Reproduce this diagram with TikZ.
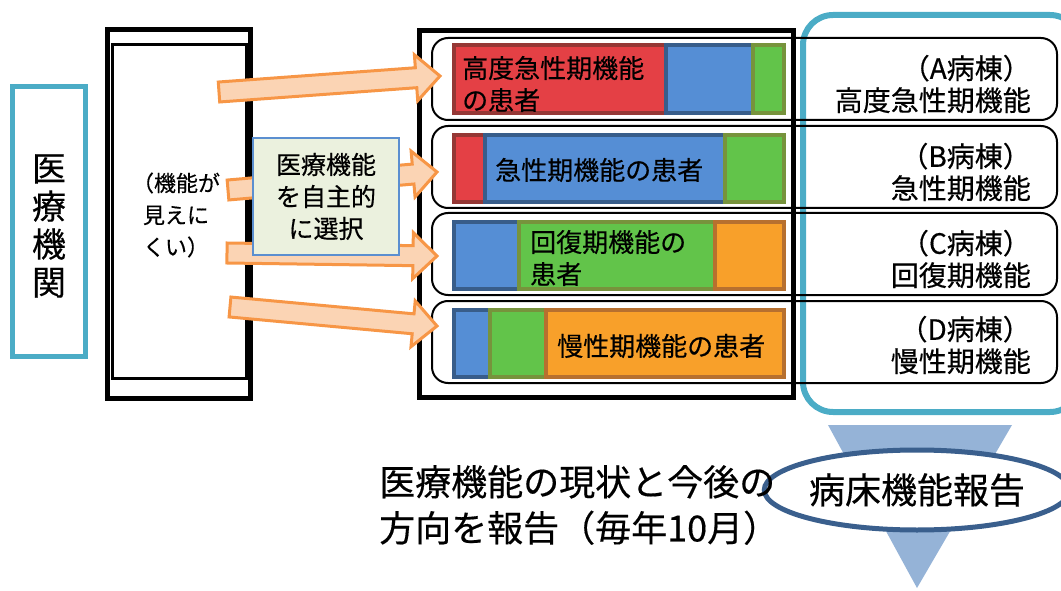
\documentclass[tikz,border=0pt]{standalone}
\usepackage{fontspec}
\newfontfamily\jp{Noto Sans CJK JP}[FakeBold=0.4]
\usetikzlibrary{calc,shapes.geometric}

\definecolor{frameblue}{HTML}{4BACC6}
\definecolor{arrfill}{HTML}{FBD4B4}
\definecolor{arrline}{HTML}{F79646}
\definecolor{choicefill}{HTML}{EBF1DE}
\definecolor{choiceline}{HTML}{5B8FD0}
\definecolor{redfill}{HTML}{E44045}
\definecolor{redline}{HTML}{953735}
\definecolor{bluefill}{HTML}{558ED5}
\definecolor{blueline}{HTML}{385D8A}
\definecolor{greenfill}{HTML}{62C44A}
\definecolor{greenline}{HTML}{77933C}
\definecolor{orangefill}{HTML}{F8A02A}
\definecolor{orangeline}{HTML}{B7702F}
\definecolor{trifill}{HTML}{95B3D7}
\definecolor{ovalline}{HTML}{3A5F8D}

\newcommand{\jpsize}[2]{\fontsize{#1}{#2}\selectfont\jp}

% block arrow from #1 to #2
\newcommand{\fatarrow}[2]{%
  \coordinate (#2h) at ($(#2)!24pt!(#1)$);
  \draw[fatarr] ($(#1)!10pt!90:(#2)$) -- ($(#2h)!10pt!-90:(#1)$)
    -- ($(#2h)!23pt!-90:(#1)$) -- (#2) -- ($(#2h)!23pt!90:(#1)$)
    -- ($(#2h)!10pt!90:(#1)$) -- ($(#1)!10pt!-90:(#2)$) -- cycle;
}

\tikzset{
  fatarr/.style={fill=arrfill, draw=arrline, line width=3, line join=miter},
  rowbox/.style={draw=black, line width=2, rounded corners=16},
  redseg/.style={fill=redfill, draw=redline, line width=4},
  blueseg/.style={fill=bluefill, draw=blueline, line width=4},
  greenseg/.style={fill=greenfill, draw=greenline, line width=4},
  orangeseg/.style={fill=orangefill, draw=orangeline, line width=4},
  rowlabel/.style={anchor=west, align=left, inner sep=0, font=\jpsize{26}{32}},
  wardlabel/.style={anchor=east, align=right, inner sep=0, font=\jpsize{28}{32}},
  choicebox/.style={fill=choicefill, draw=choiceline, line width=1.5,
    minimum width=146, minimum height=117, align=center, font=\jpsize{25}{32}},
  oval/.style={ellipse, draw=ovalline, line width=5, fill=white,
    minimum width=264, minimum height=80, inner sep=0, font=\jpsize{36}{40}}
}

\begin{document}
\begin{tikzpicture}[x=1pt,y=-1pt]
  \useasboundingbox (0,0) rectangle (1061,591);

  % hospital
  \draw[frameblue, line width=5] (12.5,86.5) rectangle (85.5,356);
  \node[align=center, font=\jpsize{34}{38}] (inst) at (49,226) {医\\療\\機\\関};

  % ward block, functions not visible
  \draw[line width=5] (107.5,30) rectangle (250,398.5);
  \draw[line width=3] (112,45) rectangle (246,378);
  \node[align=center, font=\jpsize{22}{32}] (hidden) at (176,215) {（機能が\\見えに\\くい）};

  % right side: report by ward
  \fill[trifill] (828,425) -- (1012,425) -- (917,588) -- cycle;
  \draw[frameblue, line width=6, rounded corners=30] (803,15) rectangle (1080,412);
  \draw[line width=5] (419,31) rectangle (793,397);

  \draw[rowbox] (432,38) rectangle (1057,120);
  \draw[rowbox] (432,126) rectangle (1057,208);
  \draw[rowbox] (432,213) rectangle (1057,295);
  \draw[rowbox] (432,301) rectangle (1057,383);

  % patient mix per ward
  \draw[redseg] (454,45) rectangle (666,113);
  \draw[blueseg] (666,45) rectangle (753,113);
  \draw[greenseg] (753,45) rectangle (784,113);

  \draw[redseg] (454,135) rectangle (485,202);
  \draw[blueseg] (485,135) rectangle (725,202);
  \draw[greenseg] (725,135) rectangle (784,202);

  \draw[blueseg] (454,222) rectangle (519,289);
  \draw[greenseg] (519,222) rectangle (715,289);
  \draw[orangeseg] (715,222) rectangle (784,289);

  \draw[blueseg] (454,310) rectangle (490,377);
  \draw[greenseg] (490,310) rectangle (546,377);
  \draw[orangeseg] (546,310) rectangle (784,377);

  \node[rowlabel] (pA) at (462,84) {高度急性期機能\\の患者};
  \node[rowlabel] (pB) at (495,170) {急性期機能の患者};
  \node[rowlabel] (pC) at (530,258) {回復期機能の\\患者};
  \node[rowlabel] (pD) at (557,346) {慢性期機能の患者};

  \node[wardlabel] (wA) at (1031,84) {（A病棟）\\高度急性期機能};
  \node[wardlabel] (wB) at (1031,172) {（B病棟）\\急性期機能};
  \node[wardlabel] (wC) at (1031,259) {（C病棟）\\回復期機能};
  \node[wardlabel] (wD) at (1031,345) {（D病棟）\\慢性期機能};

  % arrows into the wards
  \coordinate (s1) at (219,92);  \coordinate (t1) at (440,76);
  \coordinate (s2) at (228,190); \coordinate (t2) at (437,172);
  \coordinate (s3) at (227,253); \coordinate (t3) at (437,256);
  \coordinate (s4) at (230,307); \coordinate (t4) at (437,326);
  \fatarrow{s1}{t1}
  \fatarrow{s2}{t2}
  \fatarrow{s3}{t3}
  \fatarrow{s4}{t4}

  \node[choicebox] (choice) at (326,196.5) {医療機能\\を自主的\\に選択};

  % bottom
  \node[oval] (report) at (917,490) {病床機能報告};
  \node[anchor=west, align=left, inner sep=0, font=\jpsize{36}{46}] (note) at (379,505)
    {医療機能の現状と今後の\\方向を報告（毎年10月）};
\end{tikzpicture}
\end{document}
